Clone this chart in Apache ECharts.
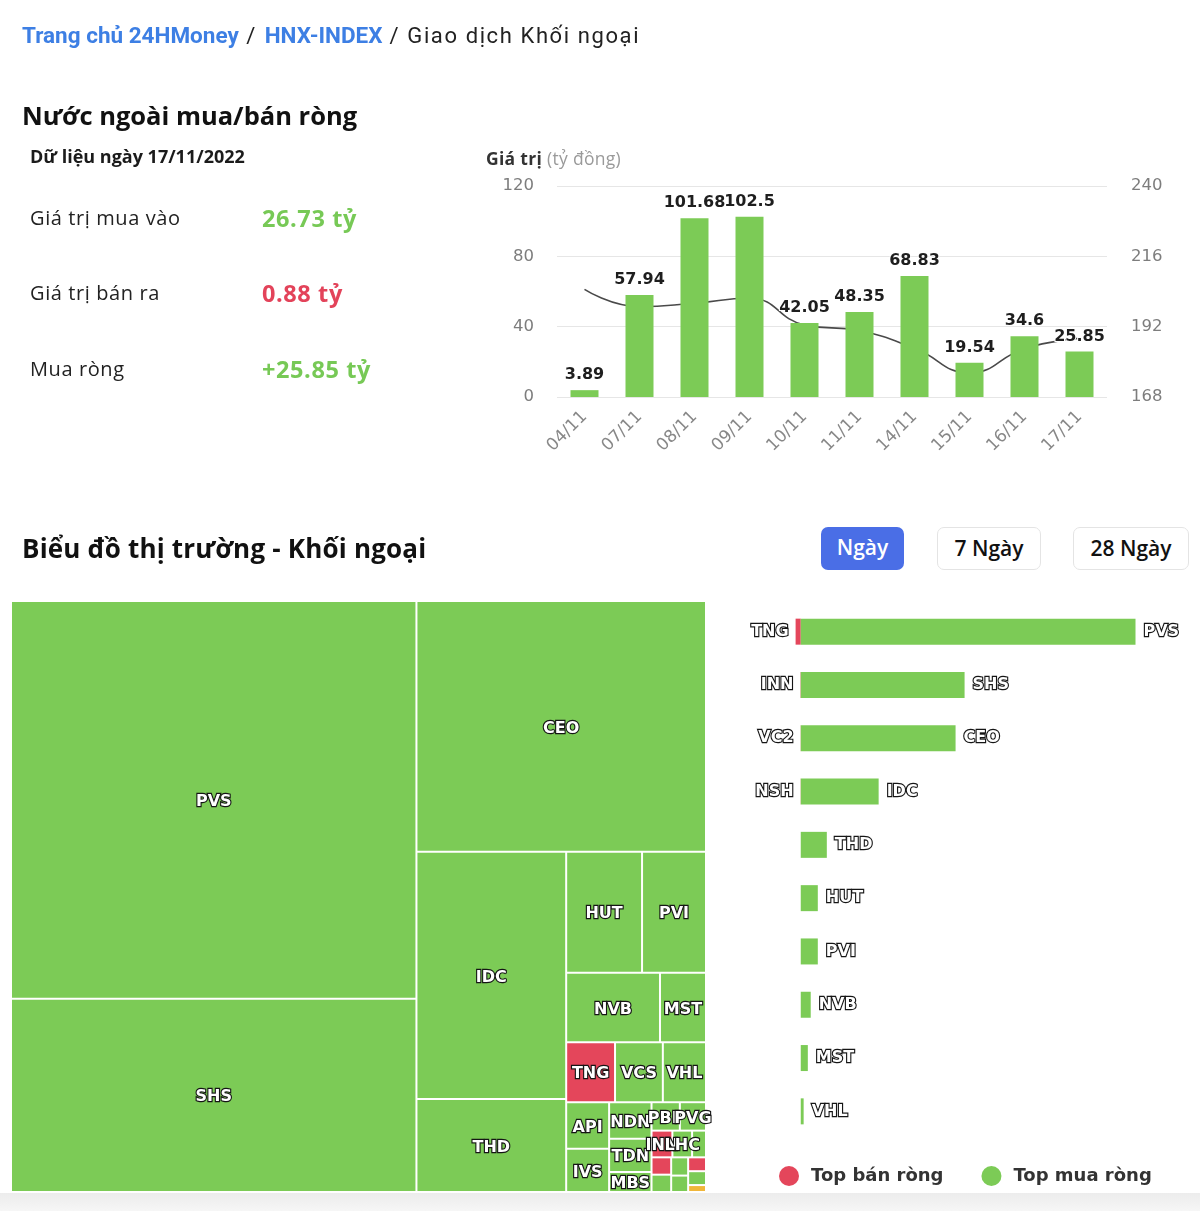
<!DOCTYPE html>
<html>
<head>
<meta charset="utf-8">
<script src="https://cdn.jsdelivr.net/npm/echarts@6/dist/echarts.min.js"></script>
<style>
html,body{margin:0;padding:0;background:#fff;}
body{width:1200px;height:1211px;position:relative;overflow:hidden;font-family:"Open Sans","Noto Sans",sans-serif;color:#1b1b1b;}
#chart{position:absolute;left:0;top:0;width:1200px;height:1211px;}
.t{position:absolute;white-space:nowrap;z-index:2;}
.crumb{left:22px;top:20px;font-size:22px;line-height:30px;color:#222;font-family:Roboto,sans-serif;}
.crumb b{color:#3d7fe4;font-weight:700;font-size:22.5px;letter-spacing:0;}
.crumb span{letter-spacing:2px;}
.crumb span.last{letter-spacing:1.6px;}
.h{font-weight:700;line-height:36px;color:#111;}
.lbl{left:30px;font-size:20px;line-height:28px;color:#222;letter-spacing:0.6px;}
.val{left:262px;font-size:23.5px;line-height:30px;font-weight:700;letter-spacing:0.6px;}
.green{color:#77c956;}
.red{color:#e3435a;}
.btn{position:absolute;top:527px;height:43px;box-sizing:border-box;border-radius:7px;font-size:21px;line-height:41px;text-align:center;font-weight:600;z-index:2;}
.footer{position:absolute;left:0;top:1193px;width:1200px;height:18px;background:linear-gradient(#ececec,#f6f6f6);z-index:1;}
</style>
</head>
<body>
<div id="chart"></div>
<div class="t crumb"><b>Trang chủ 24HMoney</b><span> / </span><b>HNX-INDEX</b><span class="last"> / Giao dịch Khối ngoại</span></div>
<div class="t h" style="left:22px;top:97px;font-size:25.5px;">Nước ngoài mua/bán ròng</div>
<div class="t" style="left:30px;top:145px;font-size:18px;line-height:22px;font-weight:700;color:#1b1b1b;">Dữ liệu ngày 17/11/2022</div>
<div class="t lbl" style="top:204px;">Giá trị mua vào</div>
<div class="t val green" style="top:203px;">26.73 tỷ</div>
<div class="t lbl" style="top:279px;">Giá trị bán ra</div>
<div class="t val red" style="top:278px;">0.88 tỷ</div>
<div class="t lbl" style="top:355px;">Mua ròng</div>
<div class="t val green" style="top:354px;">+25.85 tỷ</div>
<div class="t" style="left:486px;top:147px;font-size:17.5px;line-height:22px;letter-spacing:0.3px;"><span style="font-weight:700;color:#333;">Giá trị</span> <span style="color:#9a9a9a;">(tỷ đồng)</span></div>
<div class="t h" style="left:22px;top:530px;font-size:26px;letter-spacing:0.2px;">Biểu đồ thị trường - Khối ngoại</div>
<div class="btn" style="left:821px;width:83px;background:#4a6ee6;color:#fff;">Ngày</div>
<div class="btn" style="left:937px;width:104px;background:#fff;border:1px solid #e4e4e4;color:#111;">7 Ngày</div>
<div class="btn" style="left:1073px;width:116px;background:#fff;border:1px solid #e4e4e4;color:#111;">28 Ngày</div>
<div class="footer"></div>
<script>
// ---- Top chart: net foreign buying (tỷ đồng) and HNX-Index
const dates = ['04/11','07/11','08/11','09/11','10/11','11/11','14/11','15/11','16/11','17/11'];
const netValues = [3.89, 57.94, 101.68, 102.5, 42.05, 48.35, 68.83, 19.54, 34.6, 25.85];
const indexValues = [204.7, 198.8, 200.0, 201.7, 192.6, 190.6, 184.6, 176.3, 184.5, 188.0];
const leftAxisTicks = [0, 40, 80, 120];
const rightAxisTicks = [168, 192, 216, 240];

// ---- Horizontal bars: top net sell / top net buy (tỷ đồng)
const buyNames = ['PVS','SHS','CEO','IDC','THD','HUT','PVI','NVB','MST','VHL'];
const buyValues = [10.4, 5.09, 4.81, 2.42, 0.81, 0.53, 0.53, 0.31, 0.22, 0.09];
const sellNames = ['TNG','INN','VC2','NSH', null, null, null, null, null, null];
const sellValues = [-0.16, -0.01, -0.005, -0.005, null, null, null, null, null, null];

// ---- Treemap: traded value per ticker (triệu đồng), side of net flow
const mapNames = ['PVS','SHS','CEO','IDC','THD','HUT','PVI','NVB','MST','TNG','VCS','VHL','API','IVS','NDN','TDN','MBS','PBP','PVG','INN','LHC','BVS','VC2','TIG','DTD','PLC','NSH','SHN','VNR'];
const mapValues = [10415, 5063, 4692, 2390, 900, 592, 499, 422, 207, 189, 185, 167, 129, 120, 100, 91, 55, 52, 48, 36, 34, 24, 22, 22, 20, 18, 16, 16, 8];
const mapSides  = ['buy','buy','buy','buy','buy','buy','buy','buy','buy','sell','buy','buy','buy','buy','buy','buy','buy','buy','buy','sell','buy','buy','sell','buy','buy','buy','sell','buy','flat'];
// consecutive tickers grouped into alternating rows/columns (slice-and-dice nesting)
const mapGroupSizes = [2, 1, 2, 2];

const GREEN = '#7ccb56', RED = '#e4465b', YELLOW = '#f0b63a';
const sideColor = s => s === 'buy' ? GREEN : (s === 'sell' ? RED : YELLOW);

function leaf(i) {
  return {
    name: mapNames[i],
    value: mapValues[i],
    itemStyle: { color: sideColor(mapSides[i]), borderColor: '#fff', borderWidth: 1, gapWidth: 0 },
    label: { show: mapValues[i] >= 30 }
  };
}
const groupStyle = { borderWidth: 0, gapWidth: 0, borderColor: '#fff' };
function build(level, start) {
  if (level >= mapGroupSizes.length) {
    const out = [];
    for (let i = start; i < mapNames.length; i++) out.push(leaf(i));
    return out;
  }
  const size = mapGroupSizes[level];
  let first;
  if (size === 1) first = leaf(start);
  else {
    const kids = [];
    for (let i = start; i < start + size; i++) kids.push(leaf(i));
    first = { name: '', children: kids, itemStyle: groupStyle };
  }
  return [first, { name: '', children: build(level + 1, start + size), itemStyle: groupStyle }];
}
const treeData = build(0, 0);

const HC_FONT = '"DejaVu Sans", Verdana, sans-serif';
const outline = { color: '#fff', fontWeight: 'bold', fontFamily: HC_FONT, textBorderColor: '#151515', textBorderWidth: 2.3 };

const chart = echarts.init(document.getElementById('chart'), null, { renderer: 'canvas' });
chart.setOption({
  animation: false,
  textStyle: { fontFamily: HC_FONT },
  grid: [
    { left: 557, top: 186, width: 550, height: 211, containLabel: false },
    { left: 775, top: 605, width: 412, height: 533, containLabel: false }
  ],
  legend: {
    data: ['Top bán ròng', 'Top mua ròng'],
    left: 774, top: 1161,
    icon: 'circle', itemWidth: 20, itemHeight: 20, itemGap: 38,
    textStyle: { fontSize: 18, color: '#333', fontFamily: HC_FONT, fontWeight: 'bold', padding: [0, 0, 0, 7] }
  },
  xAxis: [
    {
      gridIndex: 0, type: 'category', data: dates,
      axisLine: { show: false }, axisTick: { show: false },
      axisLabel: { rotate: 45, color: '#888', fontSize: 17, margin: 17, fontFamily: HC_FONT }
    },
    { gridIndex: 1, type: 'value', min: -0.8, max: 12, show: false }
  ],
  yAxis: [
    {
      gridIndex: 0, type: 'value', min: leftAxisTicks[0], max: leftAxisTicks[3], interval: 40,
      axisLabel: { color: '#7d7d7d', fontSize: 16.5, margin: 23, fontFamily: HC_FONT },
      splitLine: { lineStyle: { color: '#e6e6e6' } }, axisLine: { show: false }, axisTick: { show: false }
    },
    {
      gridIndex: 0, type: 'value', min: rightAxisTicks[0], max: rightAxisTicks[3], interval: 24,
      position: 'right',
      axisLabel: { color: '#7d7d7d', fontSize: 16.5, margin: 24, fontFamily: HC_FONT },
      splitLine: { show: false }, axisLine: { show: false }, axisTick: { show: false }
    },
    {
      gridIndex: 1, type: 'category', data: buyNames, inverse: true, show: false
    }
  ],
  series: [
    {
      name: 'Mua ròng', type: 'bar', xAxisIndex: 0, yAxisIndex: 0, data: netValues,
      barWidth: 28, itemStyle: { color: GREEN },
      label: { show: true, position: 'top', distance: 7, color: '#1e1e1e', fontSize: 16, fontWeight: 'bold', fontFamily: HC_FONT,
               textBorderColor: '#fff', textBorderWidth: 2 },
      z: 3
    },
    {
      name: 'HNX-Index', type: 'line', xAxisIndex: 0, yAxisIndex: 1, data: indexValues,
      smooth: true, showSymbol: false, lineStyle: { color: '#4a4a4a', width: 1.6 }, z: 2
    },
    {
      name: 'Top bán ròng', type: 'bar', xAxisIndex: 1, yAxisIndex: 2, data: sellValues,
      barWidth: 26, barGap: '-100%', itemStyle: { color: RED },
      label: Object.assign({ show: true, position: 'left', distance: 7, fontSize: 16,
               formatter: p => sellNames[p.dataIndex] || '' }, outline)
    },
    {
      name: 'Top mua ròng', type: 'bar', xAxisIndex: 1, yAxisIndex: 2, data: buyValues,
      barWidth: 26, barGap: '-100%', itemStyle: { color: GREEN },
      label: Object.assign({ show: true, position: 'right', distance: 8, fontSize: 16,
               formatter: p => buyNames[p.dataIndex] }, outline)
    },
    {
      type: 'treemap', left: 11, top: 601, width: 695, height: 591,
      data: treeData, sort: false, squareRatio: 1.24,
      roam: false, nodeClick: false, breadcrumb: { show: false },
      itemStyle: { borderWidth: 0, gapWidth: 0, borderColor: '#fff' },
      label: Object.assign({ show: true, position: 'inside', fontSize: 16, padding: 0, overflow: 'none', offset: [0, 2] }, outline),
      upperLabel: { show: false },
      emphasis: { disabled: true }
    }
  ]
});
</script>
</body>
</html>
